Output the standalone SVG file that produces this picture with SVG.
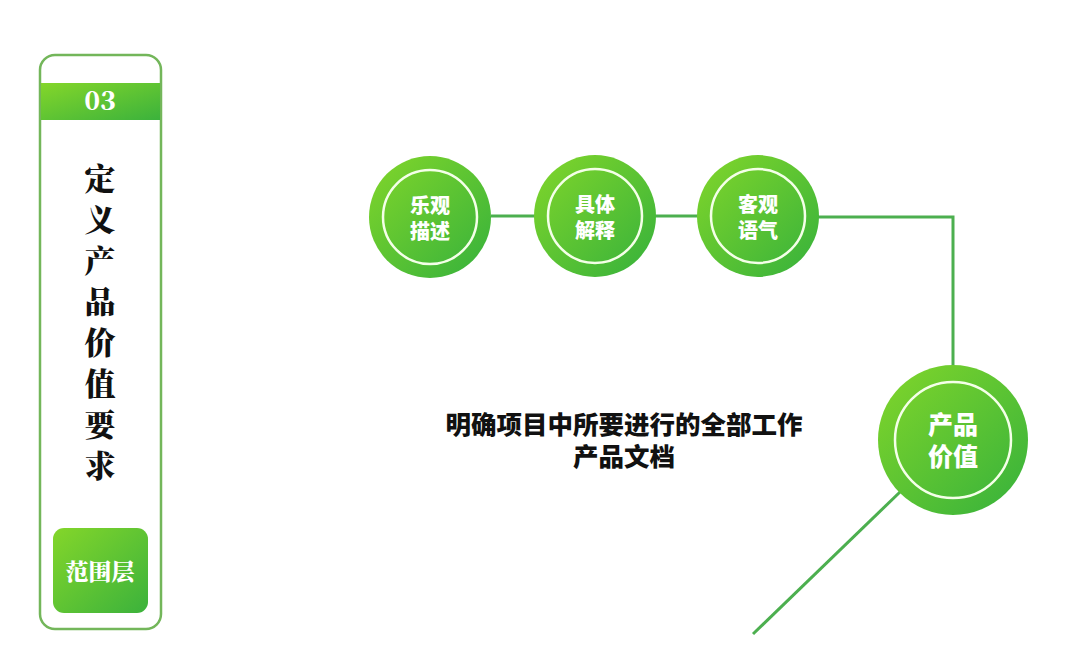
<svg xmlns="http://www.w3.org/2000/svg" width="1086" height="658" viewBox="0 0 1086 658">
<defs>
<linearGradient id="g" x1="0" y1="0" x2="1" y2="1">
<stop offset="0" stop-color="#82d62a"/>
<stop offset="1" stop-color="#35b13c"/>
</linearGradient>
<linearGradient id="gh" x1="0" y1="0" x2="1" y2="1">
<stop offset="0" stop-color="#84d62a"/>
<stop offset="1" stop-color="#3bb23c"/>
</linearGradient>
<style>
.cn{font-family:"Noto Sans CJK SC","Noto Sans",sans-serif;font-weight:900;text-anchor:middle}
.sf{font-family:"Noto Serif CJK SC","Liberation Serif","Noto Sans CJK SC",serif;font-weight:900;text-anchor:middle}
.ring{fill:none;stroke:#f4ffe8;stroke-width:2.5}
.conn{fill:none;stroke:#4caf4f;stroke-width:3}
</style>
</defs>
<rect width="1086" height="658" fill="#ffffff"/>
<g id="card">
<rect x="40" y="55" width="121" height="574" rx="15" fill="#fff" stroke="#73b65a" stroke-width="2.5"/>
<rect x="41" y="83" width="119" height="37" fill="url(#gh)"/>
<text class="sf" x="100" y="110" font-size="26" fill="#fff">03</text>
<g class="sf" font-size="31" fill="#111">
<text x="100" y="190">定</text>
<text x="100" y="231">义</text>
<text x="100" y="272">产</text>
<text x="100" y="313">品</text>
<text x="100" y="354">价</text>
<text x="100" y="395">值</text>
<text x="100" y="436">要</text>
<text x="100" y="477">求</text>
</g>
<rect x="53" y="528" width="95" height="85" rx="11" fill="url(#gh)"/>
<text class="sf" x="100" y="580" font-size="23" fill="#fff">范围层</text>
</g>
<g id="connectors">
<line class="conn" x1="491" y1="216" x2="535" y2="216"/>
<line class="conn" x1="655" y1="216" x2="698" y2="216"/>
<polyline class="conn" points="818,217 953,217 953,366"/>
<line class="conn" x1="900" y1="492" x2="753" y2="634"/>
</g>
<g id="n1">
<circle cx="430" cy="217" r="61" fill="url(#g)"/>
<circle class="ring" cx="430" cy="217" r="47"/>
<text class="cn" x="430" y="213" font-size="20" fill="#fff">乐观</text>
<text class="cn" x="430" y="239" font-size="20" fill="#fff">描述</text>
</g>
<g id="n2">
<circle cx="595" cy="216" r="61" fill="url(#g)"/>
<circle class="ring" cx="595" cy="216" r="47"/>
<text class="cn" x="595" y="212" font-size="20" fill="#fff">具体</text>
<text class="cn" x="595" y="238" font-size="20" fill="#fff">解释</text>
</g>
<g id="n3">
<circle cx="758" cy="216" r="61" fill="url(#g)"/>
<circle class="ring" cx="758" cy="216" r="47"/>
<text class="cn" x="758" y="212" font-size="20" fill="#fff">客观</text>
<text class="cn" x="758" y="238" font-size="20" fill="#fff">语气</text>
</g>
<g id="n4">
<circle cx="953" cy="440" r="75" fill="url(#g)"/>
<circle class="ring" cx="953" cy="440" r="58"/>
<text class="cn" x="953" y="434" font-size="25" fill="#fff">产品</text>
<text class="cn" x="953" y="466" font-size="25" fill="#fff">价值</text>
</g>
<g id="label">
<text class="cn" x="624" y="434" font-size="25.5" fill="#111">明确项目中所要进行的全部工作</text>
<text class="cn" x="624" y="466" font-size="25.5" fill="#111">产品文档</text>
</g>
</svg>
